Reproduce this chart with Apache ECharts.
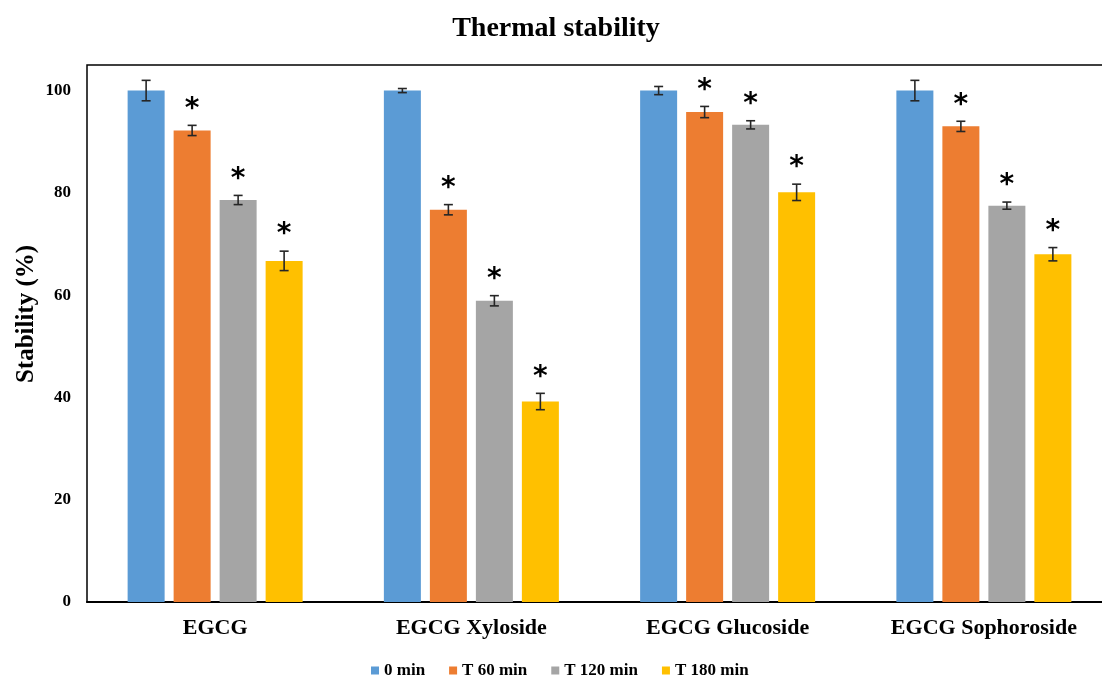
<!DOCTYPE html>
<html>
<head>
<meta charset="utf-8">
<script src="https://cdn.jsdelivr.net/npm/echarts@6/dist/echarts.min.js"></script>
<style>
html,body{margin:0;padding:0;background:#fff;overflow:hidden;}
#wrap{width:1102px;height:675px;overflow:hidden;}
#chart{width:1112px;height:675px;}
</style>
</head>
<body>
<div id="wrap"><div id="chart"></div></div>
<script>
var categories = ['EGCG', 'EGCG Xyloside', 'EGCG Glucoside', 'EGCG Sophoroside'];
var seriesNames = ['0 min', 'T 60 min', 'T 120 min', 'T 180 min'];
var min0 = [100, 100, 100, 100];
var err0 = [2.0, 0.4, 0.8, 2.0];
var t60 = [92.2, 76.7, 95.8, 93.0];
var err60 = [1.0, 1.0, 1.1, 1.0];
var t120 = [78.6, 58.9, 93.3, 77.5];
var err120 = [0.9, 1.0, 0.8, 0.7];
var t180 = [66.7, 39.2, 80.1, 68.0];
var err180 = [1.9, 1.6, 1.6, 1.3];
var sig0 = ['', '', '', ''];
var sig60 = ['*', '*', '*', '*'];
var sig120 = ['*', '*', '*', '*'];
var sig180 = ['*', '*', '*', '*'];
var yTicks = [0, 20, 40, 60, 80, 100];

var values = [min0, t60, t120, t180];
var errors = [err0, err60, err120, err180];
var sigs = [sig0, sig60, sig120, sig180];
var colors = ['#5B9BD5', '#ED7D31', '#A5A5A5', '#FFC000'];
var serif = '"Liberation Serif", "Times New Roman", serif';
var BAR_W = 37, BAR_GAP = 9;

var chart = echarts.init(document.getElementById('chart'));
var series = [];
values.forEach(function (vals, k) {
  series.push({
    name: seriesNames[k],
    type: 'bar',
    data: vals,
    barWidth: BAR_W,
    barGap: (BAR_GAP / BAR_W * 100) + '%',
    itemStyle: { color: colors[k] },
    z: 2
  });
});
values.forEach(function (vals, k) {
  series.push({
    type: 'custom',
    name: seriesNames[k] + ' err',
    z: 5,
    silent: true,
    data: vals.map(function (v, i) { return [i, v, errors[k][i]]; }),
    renderItem: function (params, api) {
      var i = api.value(0), v = api.value(1), e = api.value(2);
      var sig = sigs[k][params.dataIndex];
      var off = (k - 1.5) * (BAR_W + BAR_GAP);
      var top = api.coord([i, v + e]);
      var bot = api.coord([i, v - e]);
      var x = top[0] + off;
      var cap = 4.5;
      var st = { stroke: '#262626', lineWidth: 1.6 };
      var children = [
        { type: 'line', shape: { x1: x, y1: top[1], x2: x, y2: bot[1] }, style: st },
        { type: 'line', shape: { x1: x - cap, y1: top[1], x2: x + cap, y2: top[1] }, style: st },
        { type: 'line', shape: { x1: x - cap, y1: bot[1], x2: x + cap, y2: bot[1] }, style: st }
      ];
      if (sig) {
        children.push({
          type: 'text',
          style: {
            text: sig, x: x, y: top[1] - 16,
            fill: '#000', font: 'bold 28px "DejaVu Sans", sans-serif',
            align: 'center', verticalAlign: 'middle'
          }
        });
      }
      return { type: 'group', children: children };
    }
  });
});

chart.setOption({
  animation: false,
  backgroundColor: '#fff',
  title: {
    text: 'Thermal stability',
    left: 'center', top: 10,
    textStyle: { fontFamily: serif, fontWeight: 'bold', fontSize: 28, color: '#000' }
  },
  legend: {
    data: seriesNames,
    top: 657, left: 366,
    itemWidth: 8, itemHeight: 8, itemGap: 24,
    icon: 'rect',
    textStyle: { fontFamily: serif, fontWeight: 'bold', fontSize: 17, color: '#000' }
  },
  grid: {
    left: 87, top: 65, bottom: 73, right: 0,
    show: true, borderColor: '#000', borderWidth: 1.5
  },
  xAxis: {
    type: 'category',
    data: categories,
    axisLine: { lineStyle: { color: '#000', width: 2 } },
    axisTick: { show: false },
    axisLabel: { fontFamily: serif, fontWeight: 'bold', fontSize: 22, color: '#000', margin: 15 }
  },
  yAxis: {
    type: 'value',
    min: 0, max: 105, interval: 20,
    axisLine: { show: false },
    axisTick: { show: false },
    splitLine: { show: false },
    axisLabel: {
      fontFamily: serif, fontWeight: 'bold', fontSize: 17, color: '#000', margin: 16,
      showMaxLabel: false,
      formatter: function (v) { return yTicks.indexOf(v) >= 0 ? String(v) : ''; }
    }
  },
  graphic: [{
    type: 'text',
    x: 27, y: 314, rotation: Math.PI / 2,
    style: {
      text: 'Stability (%)', fill: '#000',
      font: 'bold 25px ' + serif,
      align: 'center', verticalAlign: 'middle'
    }
  }],
  series: series
});
</script>
</body>
</html>
